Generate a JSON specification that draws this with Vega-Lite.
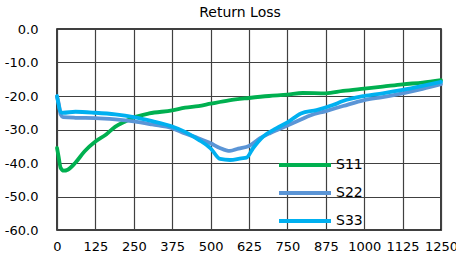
{
  "$schema": "https://vega.github.io/schema/vega-lite/v6.json",
  "width": 384,
  "height": 201,
  "autosize": {"type": "none"},
  "padding": {"left": 57, "top": 29, "right": 15, "bottom": 27},
  "background": "#ffffff",
  "config": {
    "font": "DejaVu Sans",
    "view": {"stroke": "#000000", "strokeWidth": 1.5},
    "axis": {"labelFont": "DejaVu Sans", "labelColor": "#000000", "gridColor": "#404040", "gridWidth": 1.2, "gridOpacity": 1, "domain": false, "ticks": false, "title": null}
  },
  "title": {"text": "Return Loss", "fontSize": 14, "fontWeight": "normal", "font": "DejaVu Sans", "color": "#000000", "anchor": "middle", "offset": 3, "dx": -9},
  "data": {"values": [
    {"freq": 0, "loss": -35.5, "series": "S11"},
    {"freq": 5, "loss": -38.0, "series": "S11"},
    {"freq": 12, "loss": -41.5, "series": "S11"},
    {"freq": 22, "loss": -42.3, "series": "S11"},
    {"freq": 35, "loss": -42.0, "series": "S11"},
    {"freq": 59, "loss": -40.0, "series": "S11"},
    {"freq": 90, "loss": -36.5, "series": "S11"},
    {"freq": 125, "loss": -33.6, "series": "S11"},
    {"freq": 160, "loss": -31.5, "series": "S11"},
    {"freq": 189, "loss": -29.2, "series": "S11"},
    {"freq": 220, "loss": -27.7, "series": "S11"},
    {"freq": 250, "loss": -26.4, "series": "S11"},
    {"freq": 300, "loss": -25.2, "series": "S11"},
    {"freq": 375, "loss": -24.3, "series": "S11"},
    {"freq": 417, "loss": -23.5, "series": "S11"},
    {"freq": 460, "loss": -23.0, "series": "S11"},
    {"freq": 500, "loss": -22.3, "series": "S11"},
    {"freq": 560, "loss": -21.3, "series": "S11"},
    {"freq": 625, "loss": -20.6, "series": "S11"},
    {"freq": 690, "loss": -20.0, "series": "S11"},
    {"freq": 750, "loss": -19.6, "series": "S11"},
    {"freq": 800, "loss": -19.1, "series": "S11"},
    {"freq": 875, "loss": -19.2, "series": "S11"},
    {"freq": 931, "loss": -18.5, "series": "S11"},
    {"freq": 1000, "loss": -17.8, "series": "S11"},
    {"freq": 1060, "loss": -17.2, "series": "S11"},
    {"freq": 1125, "loss": -16.5, "series": "S11"},
    {"freq": 1190, "loss": -16.0, "series": "S11"},
    {"freq": 1250, "loss": -15.3, "series": "S11"},
    {"freq": 0, "loss": -20.2, "series": "S22"},
    {"freq": 5, "loss": -22.0, "series": "S22"},
    {"freq": 12, "loss": -25.5, "series": "S22"},
    {"freq": 20, "loss": -26.3, "series": "S22"},
    {"freq": 60, "loss": -26.5, "series": "S22"},
    {"freq": 125, "loss": -26.6, "series": "S22"},
    {"freq": 190, "loss": -27.0, "series": "S22"},
    {"freq": 250, "loss": -27.6, "series": "S22"},
    {"freq": 310, "loss": -28.5, "series": "S22"},
    {"freq": 375, "loss": -29.6, "series": "S22"},
    {"freq": 417, "loss": -31.2, "series": "S22"},
    {"freq": 460, "loss": -32.6, "series": "S22"},
    {"freq": 500, "loss": -34.1, "series": "S22"},
    {"freq": 530, "loss": -35.5, "series": "S22"},
    {"freq": 563, "loss": -36.4, "series": "S22"},
    {"freq": 590, "loss": -35.7, "series": "S22"},
    {"freq": 625, "loss": -34.9, "series": "S22"},
    {"freq": 661, "loss": -32.6, "series": "S22"},
    {"freq": 693, "loss": -31.1, "series": "S22"},
    {"freq": 720, "loss": -30.0, "series": "S22"},
    {"freq": 750, "loss": -28.8, "series": "S22"},
    {"freq": 794, "loss": -27.0, "series": "S22"},
    {"freq": 824, "loss": -25.8, "series": "S22"},
    {"freq": 875, "loss": -24.5, "series": "S22"},
    {"freq": 931, "loss": -23.0, "series": "S22"},
    {"freq": 1000, "loss": -21.2, "series": "S22"},
    {"freq": 1060, "loss": -20.3, "series": "S22"},
    {"freq": 1125, "loss": -19.2, "series": "S22"},
    {"freq": 1190, "loss": -17.9, "series": "S22"},
    {"freq": 1250, "loss": -16.5, "series": "S22"},
    {"freq": 0, "loss": -20.0, "series": "S33"},
    {"freq": 5, "loss": -22.5, "series": "S33"},
    {"freq": 12, "loss": -24.8, "series": "S33"},
    {"freq": 20, "loss": -25.0, "series": "S33"},
    {"freq": 60, "loss": -24.7, "series": "S33"},
    {"freq": 125, "loss": -25.0, "series": "S33"},
    {"freq": 190, "loss": -25.5, "series": "S33"},
    {"freq": 250, "loss": -26.3, "series": "S33"},
    {"freq": 310, "loss": -27.5, "series": "S33"},
    {"freq": 375, "loss": -29.1, "series": "S33"},
    {"freq": 417, "loss": -30.7, "series": "S33"},
    {"freq": 460, "loss": -33.0, "series": "S33"},
    {"freq": 500, "loss": -35.6, "series": "S33"},
    {"freq": 531, "loss": -38.8, "series": "S33"},
    {"freq": 563, "loss": -39.1, "series": "S33"},
    {"freq": 600, "loss": -38.6, "series": "S33"},
    {"freq": 617, "loss": -38.4, "series": "S33"},
    {"freq": 638, "loss": -35.6, "series": "S33"},
    {"freq": 671, "loss": -32.1, "series": "S33"},
    {"freq": 715, "loss": -29.6, "series": "S33"},
    {"freq": 750, "loss": -27.9, "series": "S33"},
    {"freq": 794, "loss": -25.2, "series": "S33"},
    {"freq": 845, "loss": -24.2, "series": "S33"},
    {"freq": 898, "loss": -22.7, "series": "S33"},
    {"freq": 931, "loss": -21.5, "series": "S33"},
    {"freq": 1000, "loss": -20.0, "series": "S33"},
    {"freq": 1060, "loss": -19.2, "series": "S33"},
    {"freq": 1125, "loss": -18.2, "series": "S33"},
    {"freq": 1190, "loss": -17.0, "series": "S33"},
    {"freq": 1250, "loss": -15.8, "series": "S33"}
  ]},
  "mark": {"type": "line", "strokeWidth": 3.8, "interpolate": "monotone", "strokeCap": "round", "strokeJoin": "round"},
  "encoding": {
    "x": {"field": "freq", "type": "quantitative", "scale": {"domain": [0, 1250], "nice": false, "zero": false},
      "axis": {"values": [0, 125, 250, 375, 500, 625, 750, 875, 1000, 1125, 1250], "format": "d", "labelFontSize": 13, "labelPadding": 10, "labelFlush": false, "labelOverlap": false}},
    "y": {"field": "loss", "type": "quantitative", "scale": {"domain": [-60, 0], "nice": false},
      "axis": {"values": [-60, -50, -40, -30, -20, -10, 0], "labelFontSize": 13, "labelPadding": 19, "labelExpr": "datum.value == 0 ? '0.0' : '-' + format(abs(datum.value), '.1f')"}},
    "color": {"field": "series", "type": "nominal",
      "scale": {"domain": ["S11", "S22", "S33"], "range": ["#00B050", "#5B95D6", "#00B0F0"]},
      "legend": {"title": null, "orient": "none", "legendX": 220, "legendY": 122, "symbolType": "stroke", "symbolSize": 2704, "symbolStrokeWidth": 4, "clipHeight": 28, "rowPadding": 0, "labelFontSize": 14, "labelColor": "#000000", "labelOffset": 3, "labelFont": "DejaVu Sans"}}
  }
}
